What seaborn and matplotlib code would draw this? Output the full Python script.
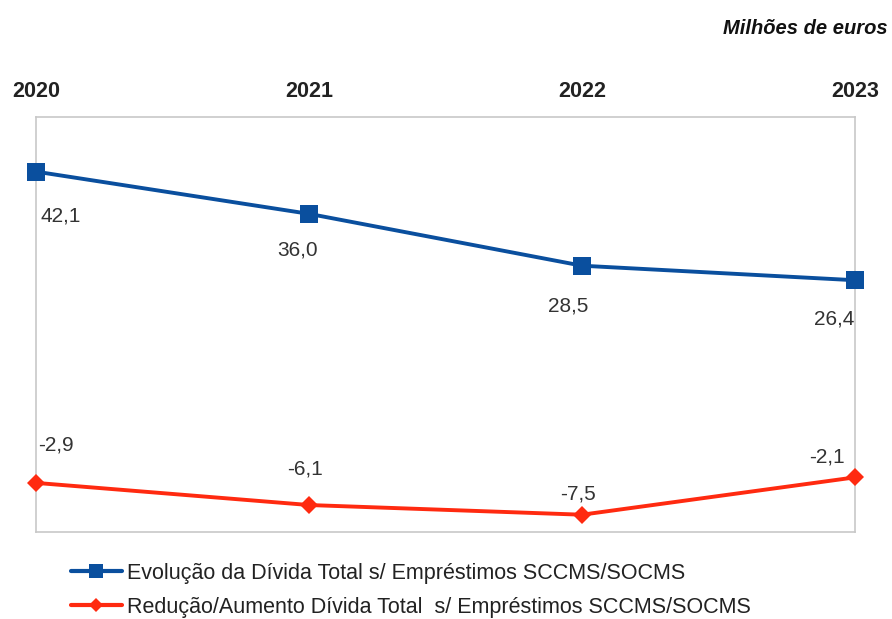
import numpy as np
import pandas as pd
import matplotlib
matplotlib.use("Agg")
import matplotlib.pyplot as plt
import seaborn as sns
from matplotlib.lines import Line2D

years = ["2020", "2021", "2022", "2023"]
divida_total = [42.1, 36.0, 28.5, 26.4]
variacao = [-2.9, -6.1, -7.5, -2.1]
serie_divida = "Evolução da Dívida Total s/ Empréstimos SCCMS/SOCMS"
serie_variacao = "Redução/Aumento Dívida Total  s/ Empréstimos SCCMS/SOCMS"

sns.set_theme(style="white")
plt.rcParams["font.family"] = ["Liberation Sans", "DejaVu Sans"]

df = pd.DataFrame({
    "ano": list(range(len(years))) * 2,
    "valor": divida_total + variacao,
    "serie": [serie_divida] * len(years) + [serie_variacao] * len(years),
})

azul = "#0a4f9e"
vermelho = "#ff2a10"

fig = plt.figure(figsize=(8.92, 6.19), dpi=100)
ax = fig.add_axes([36 / 892, 1 - 532 / 619, (855 - 36) / 892, (532 - 117) / 619])

sns.lineplot(data=df, x="ano", y="valor", hue="serie", style="serie",
             palette={serie_divida: azul, serie_variacao: vermelho},
             markers={serie_divida: "s", serie_variacao: "D"},
             dashes=False, linewidth=2.8, markersize=9, markeredgewidth=0,
             legend=False, ax=ax, clip_on=False)
# square markers are larger than the diamonds; keep lines above the frame
for ln in ax.get_lines():
    ln.set_zorder(5)
    if ln.get_marker() == "s":
        ln.set_markersize(13)
    else:
        ln.set_markersize(9.5)

ax.set_xlim(0, len(years) - 1)
ax.set_ylim(-10, 50)
ax.set_yticks([])
ax.set_xticks(range(len(years)))
ax.set_xticklabels(years, fontsize=15.5, fontweight="bold", color="#222222")
ax.xaxis.tick_top()
ax.tick_params(axis="x", length=0, pad=11)
ax.set_xlabel("")
ax.set_ylabel("")
for sp in ax.spines.values():
    sp.set_color("#c8c8c8")
    sp.set_linewidth(1.2)
    sp.set_zorder(1)

# value labels
off_div = [(18, -32), (-8, -26), (-10, -29), (-15, -28)]
off_var = [(14, 27), (-3, 26), (-3, 15), (-20, 15)]
for i, v in enumerate(divida_total):
    ax.annotate(f"{v:.1f}".replace(".", ","), (i, v), xytext=off_div[i],
                textcoords="offset points", ha="center", va="center",
                fontsize=15, color="#333333")
for i, v in enumerate(variacao):
    ax.annotate(f"{v:.1f}".replace(".", ","), (i, v), xytext=off_var[i],
                textcoords="offset points", ha="center", va="center",
                fontsize=15, color="#333333")

fig.text(888 / 892, 1 - 28 / 619, "Milhões de euros", ha="right", va="center",
         fontsize=14.5, fontweight="bold", style="italic", color="#111111")

handles = [
    Line2D([], [], color=azul, marker="s", markersize=10, linewidth=3, markeredgewidth=0),
    Line2D([], [], color=vermelho, marker="D", markersize=7.5, linewidth=3, markeredgewidth=0),
]
fig.legend(handles, [serie_divida, serie_variacao], loc="upper left",
           bbox_to_anchor=(62 / 892, 1 - 554 / 619), frameon=False,
           fontsize=15.5, handlelength=2.4, handletextpad=0.2,
           labelspacing=0.62, labelcolor="#222222", borderaxespad=0)

fig.savefig("out.png", dpi=100)
